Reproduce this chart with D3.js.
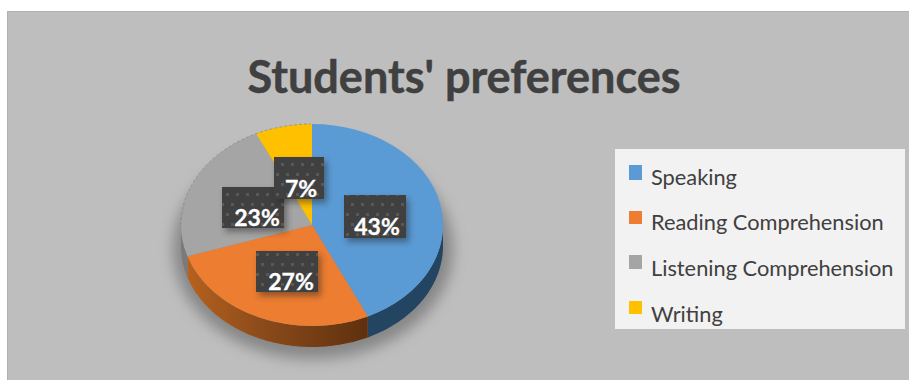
<!DOCTYPE html>
<html>
<head>
<meta charset="utf-8">
<script src="https://cdn.jsdelivr.net/npm/d3@7/dist/d3.min.js"></script>
<style>
  html, body { margin: 0; padding: 0; background: #fff; }
  svg { display: block; }
  text { font-family: Lato, "Open Sans", sans-serif; }
</style>
</head>
<body>
<svg id="chart" width="909" height="380"></svg>
<script>
// Survey results
const titleText = "Students' preferences";
const categories = ["Speaking", "Reading Comprehension", "Listening Comprehension", "Writing"];
const shares = [43, 27, 23, 7];
const sliceColors = ["#5b9bd5", "#ed7d31", "#a5a5a5", "#ffc000"];
const wallColors = ["#234562", "#8a4a1c", "#7a7a7a", "#a88000"];

// Layout of the tilted pie
const cx = 312, cy = 225, rx = 131, ry = 101, depth = 21;
// Data label boxes: x, y, w, h, text centre, baseline
const labelLayout = [
  [344, 195, 62, 43, 377, 235],
  [256, 251, 62, 41, 291, 290],
  [222, 187, 62, 41, 257, 226],
  [274, 157, 50, 42, 301, 197]
];
// Legend rows: swatch top, swatch height, text baseline
const legendLayout = [
  [165, 15, 185],
  [211, 13, 230],
  [255, 14, 276],
  [301, 13, 322]
];

const svg = d3.select("#chart");
const defs = svg.append("defs");

const blur = (id, sd) => defs.append("filter").attr("id", id)
  .attr("x", "-30%").attr("y", "-30%").attr("width", "160%").attr("height", "160%")
  .append("feGaussianBlur").attr("stdDeviation", sd);
blur("pieShadow", 7);
blur("boxShadow", 3);

const orangeGrad = defs.append("linearGradient").attr("id", "wallOrange")
  .attr("gradientUnits", "userSpaceOnUse")
  .attr("x1", cx - rx).attr("x2", cx + 56).attr("y1", 0).attr("y2", 0);
orangeGrad.append("stop").attr("offset", 0).attr("stop-color", "#b9631f");
orangeGrad.append("stop").attr("offset", 0.45).attr("stop-color", "#8a4a1a");
orangeGrad.append("stop").attr("offset", 1).attr("stop-color", "#5f300e");

const pattern = defs.append("pattern").attr("id", "dots")
  .attr("patternUnits", "userSpaceOnUse").attr("width", 10).attr("height", 20);
pattern.append("rect").attr("width", 10).attr("height", 20).attr("fill", "#404040");
pattern.append("rect").attr("x", 1).attr("y", 3).attr("width", 3).attr("height", 3).attr("fill", "#585858");
pattern.append("rect").attr("x", 6).attr("y", 13).attr("width", 3).attr("height", 3).attr("fill", "#585858");

// Chart background
svg.append("rect").attr("x", 7).attr("y", 11).attr("width", 902).attr("height", 369)
  .attr("fill", "#bebebe");
svg.append("path").attr("d", "M7.5 380V11.5H909").attr("fill", "none").attr("stroke", "#b0b0b0");

// Title
svg.append("text").attr("x", 464).attr("y", 93).attr("text-anchor", "middle")
  .attr("font-size", 45).attr("font-weight", 700).attr("fill", "#404040")
  .attr("stroke", "#404040").attr("stroke-width", 0.5)
  .text(titleText);

// Pie geometry
const pie = d3.pie().sort(null).value(d => d);
const arcs = pie(shares);
const arc = d3.arc().innerRadius(0).outerRadius(1);
const xOf = a => cx + rx * Math.sin(a);
const yOf = a => cy - ry * Math.cos(a);

// Soft shadow under the disc
svg.append("ellipse").attr("cx", cx + 1).attr("cy", cy + depth + 3)
  .attr("rx", rx + 9).attr("ry", ry + 9)
  .attr("fill", "#707070").attr("opacity", 0.7).attr("filter", "url(#pieShadow)");

// Visible outer wall: only the part of each slice on the near half of the rim
const wall = svg.append("g");
const outline = d3.line().x(p => p[0]).y(p => p[1]);
arcs.forEach((d, i) => {
  const a0 = Math.max(d.startAngle, Math.PI / 2);
  const a1 = Math.min(d.endAngle, 3 * Math.PI / 2);
  if (a1 <= a0) return;
  const steps = d3.range(a0, a1, 0.02).concat([a1]);
  const pts = steps.map(a => [xOf(a), yOf(a)])
    .concat(steps.slice().reverse().map(a => [xOf(a), yOf(a) + depth]));
  wall.append("path").attr("d", outline(pts) + "Z")
    .attr("fill", i === 1 ? "url(#wallOrange)" : wallColors[i]);
});

// The top surface sits over the walls
svg.append("g")
  .attr("transform", `translate(${cx},${cy}) scale(${rx},${ry})`)
  .selectAll("path").data(arcs).join("path")
  .attr("d", arc)
  .attr("fill", (d, i) => sliceColors[i]);

// Faint dark rim along the far-left edge of the disc
const rim = d3.range(3 * Math.PI / 2, 2 * Math.PI, 0.02).map(a => [xOf(a), yOf(a)]);
svg.append("path").attr("d", outline(rim))
  .attr("fill", "none").attr("stroke", "#808080").attr("stroke-width", 1)
  .attr("stroke-dasharray", "3 2").attr("opacity", 0.6);

// Data labels on dotted boxes
labelLayout.forEach((l, i) => {
  const [x, y, w, h, tx, ty] = l;
  svg.append("rect").attr("x", x + 3).attr("y", y + 4).attr("width", w).attr("height", h)
    .attr("fill", "#222").attr("opacity", 0.45).attr("filter", "url(#boxShadow)");
  svg.append("rect").attr("x", x).attr("y", y).attr("width", w).attr("height", h)
    .attr("fill", "url(#dots)");
  svg.append("text").attr("x", tx).attr("y", ty).attr("text-anchor", "middle")
    .attr("font-size", 23).attr("font-weight", 700).attr("fill", "#fff")
    .attr("stroke", "#fff").attr("stroke-width", 0.3)
    .text(shares[i] + "%");
});

// Legend
svg.append("rect").attr("x", 615).attr("y", 149).attr("width", 290).attr("height", 180)
  .attr("fill", "#f2f2f2");
categories.forEach((c, i) => {
  const [top, h, base] = legendLayout[i];
  svg.append("rect").attr("x", 629).attr("y", top).attr("width", 13).attr("height", h)
    .attr("fill", sliceColors[i]);
  svg.append("text").attr("x", 651).attr("y", base)
    .attr("font-size", 21.8).attr("fill", "#404040").text(c);
});
</script>
</body>
</html>
